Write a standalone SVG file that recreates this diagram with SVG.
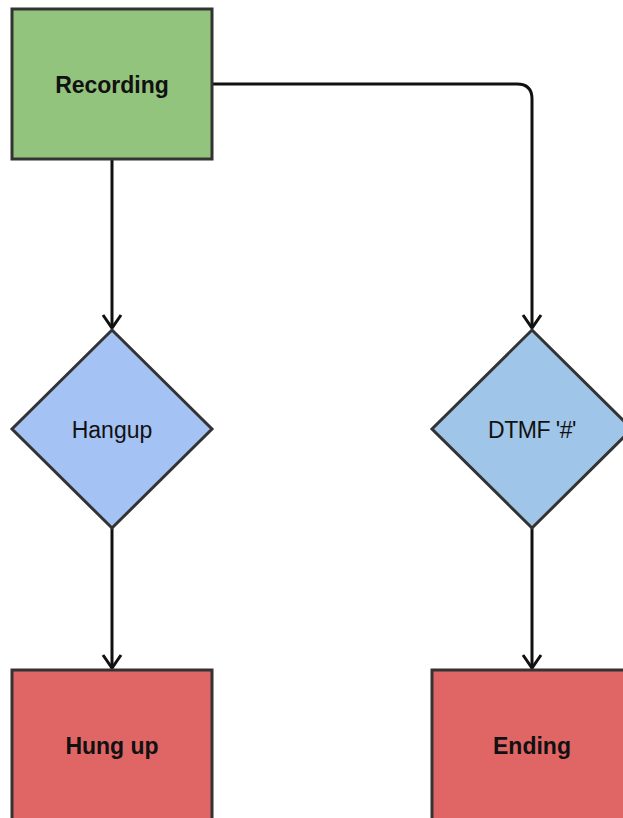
<svg xmlns="http://www.w3.org/2000/svg" width="623" height="818" viewBox="0 0 623 818">
<defs>
<style>
.shape{stroke:#333333;stroke-width:3}
.lbl{font-family:"Liberation Sans",Arial,sans-serif;font-size:23px;fill:#111111;text-anchor:middle}
.b{font-weight:bold}
.edge{fill:none;stroke:#111111;stroke-width:3}
</style>
<marker id="arr" markerUnits="userSpaceOnUse" markerWidth="28" markerHeight="28" viewBox="-16 -14 28 28" refX="0" refY="0" orient="auto">
<path d="M-13,-9 L0,0 L-13,9" fill="none" stroke="#111111" stroke-width="3" stroke-linejoin="miter"/>
</marker>
</defs>
<rect width="623" height="818" fill="#ffffff"/>
<g id="edges">
<path class="edge" d="M112,159 L112,328" marker-end="url(#arr)"/>
<path class="edge" d="M212,84 L517,84 Q532,84 532,99 L532,328" marker-end="url(#arr)"/>
<path class="edge" d="M112,528 L112,668" marker-end="url(#arr)"/>
<path class="edge" d="M532,528 L532,668" marker-end="url(#arr)"/>
</g>
<g id="recording">
<rect class="shape" x="12" y="9" width="200" height="150" fill="#93c47d"/>
<text class="lbl b" x="112" y="93">Recording</text>
</g>
<g id="hangup">
<path class="shape" d="M112,330 L212,429 L112,528 L12,429 Z" fill="#a4c2f4"/>
<text class="lbl" x="112" y="437.5">Hangup</text>
</g>
<g id="dtmf">
<path class="shape" d="M532,330 L632,429 L532,528 L432,429 Z" fill="#9fc5e8"/>
<text class="lbl" x="532" y="437.5" letter-spacing="-0.5">DTMF '#'</text>
</g>
<g id="hungup">
<rect class="shape" x="12" y="670" width="200" height="150" fill="#e06666"/>
<text class="lbl b" x="112" y="753.5">Hung up</text>
</g>
<g id="ending">
<rect class="shape" x="432" y="670" width="200" height="150" fill="#e06666"/>
<text class="lbl b" x="532" y="753.5">Ending</text>
</g>
</svg>
